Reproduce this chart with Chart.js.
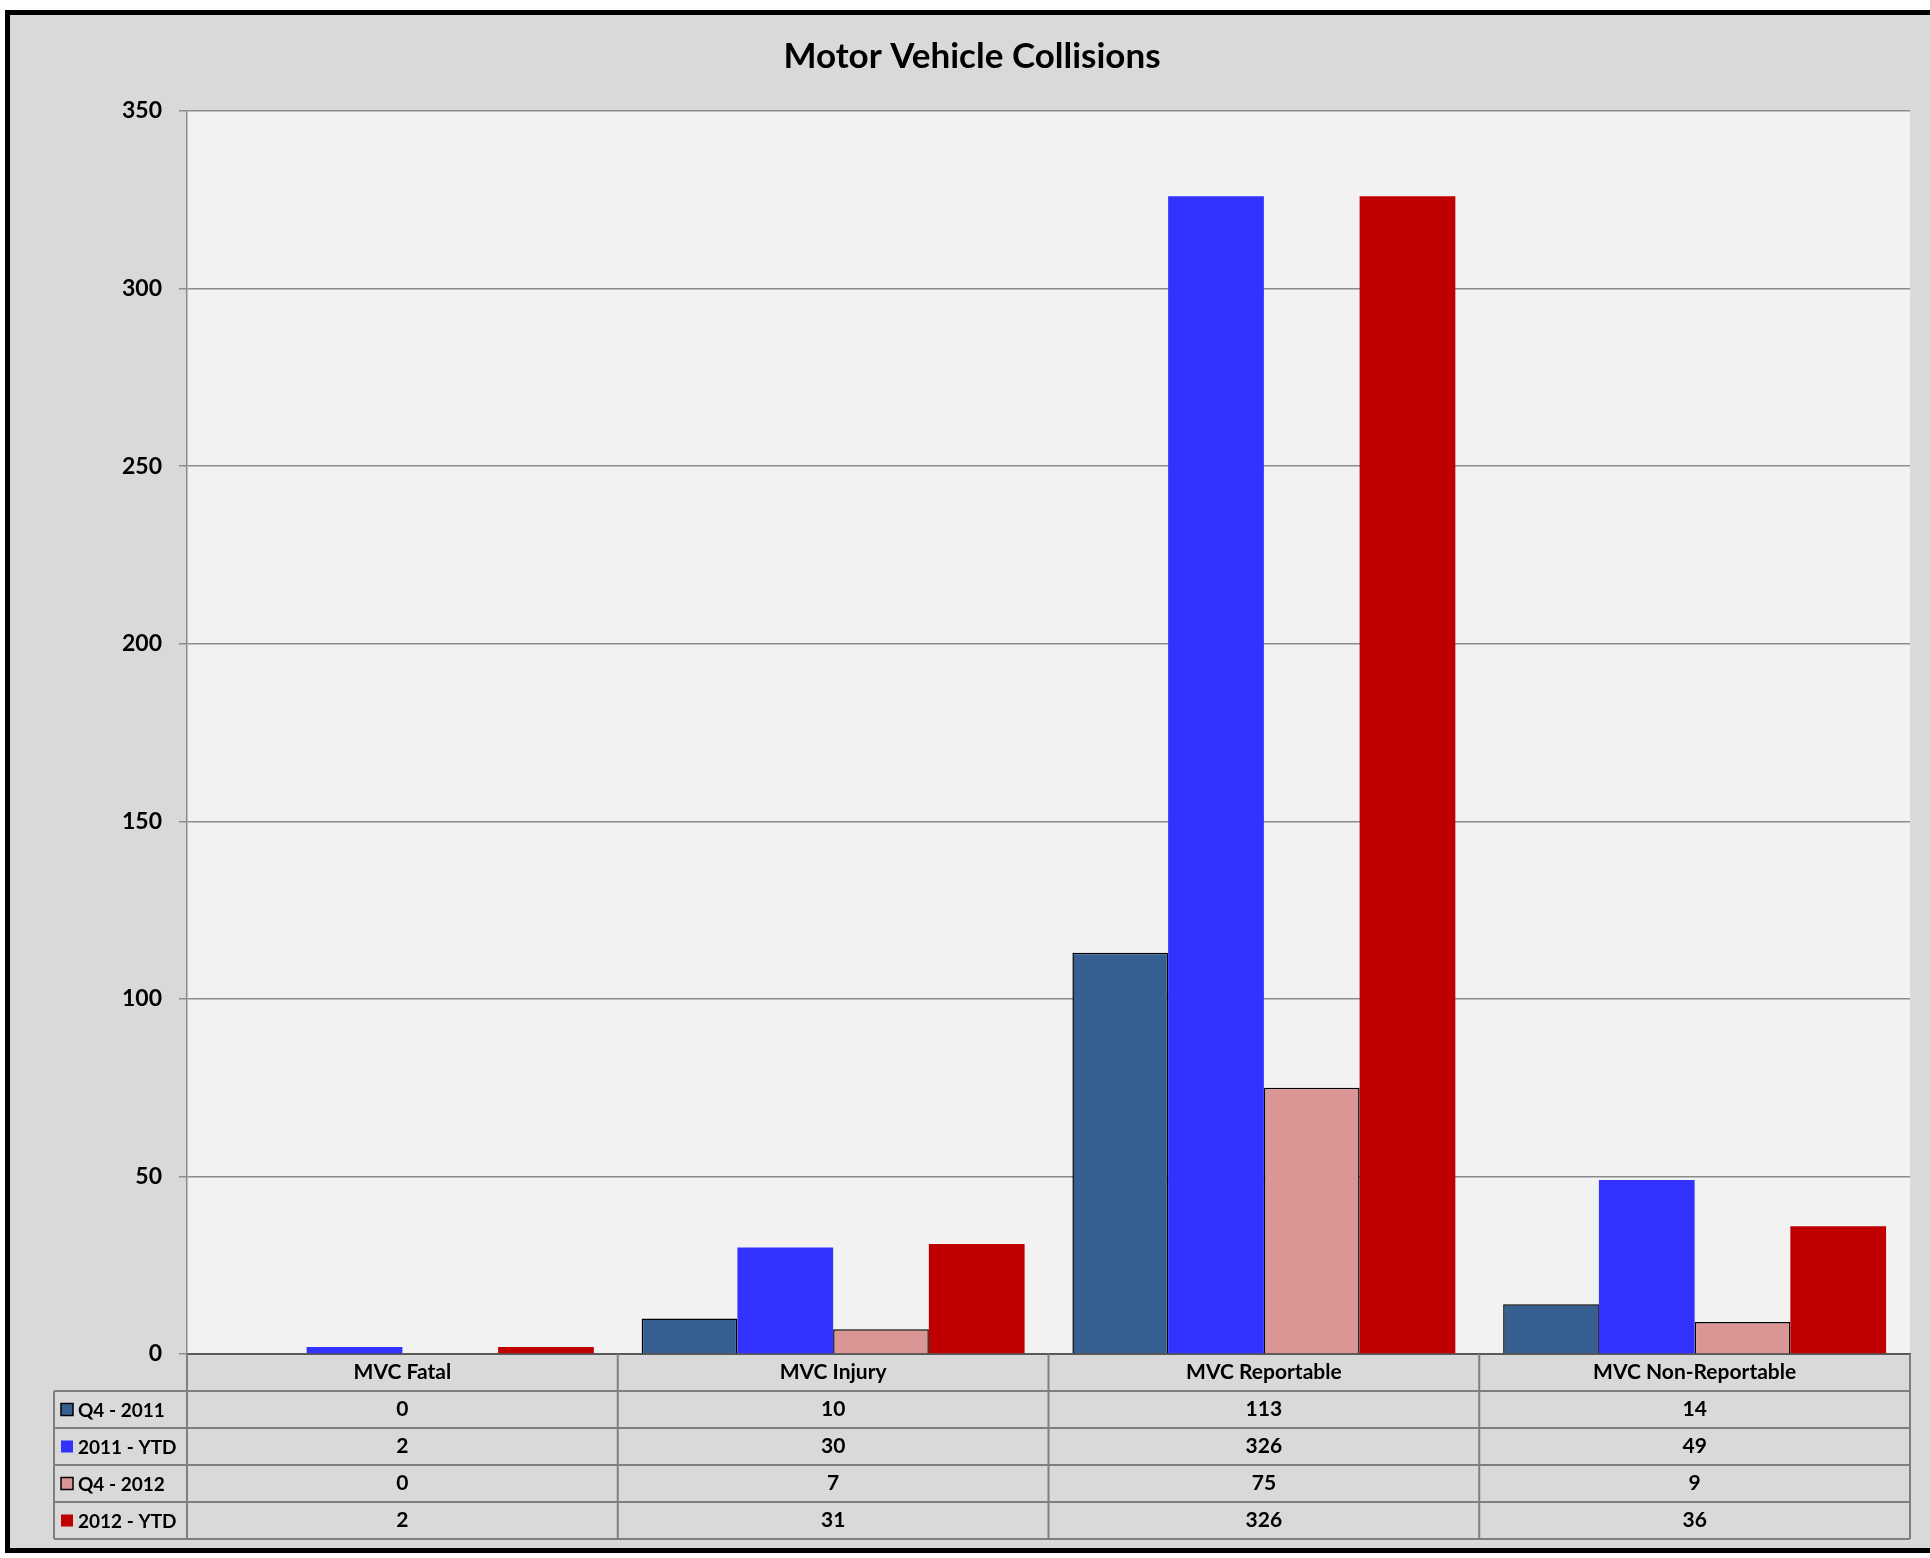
<!DOCTYPE html>
<html>
<head>
<meta charset="utf-8">
<script src="https://cdn.jsdelivr.net/npm/chart.js@4.4.1/dist/chart.umd.min.js"></script>
<style>
    body { margin: 0; background: #ffffff; overflow: hidden; width: 1930px; height: 1558px; }
    #frame { position: absolute; left: 5px; top: 10px; width: 1940px; height: 1533px; border: 5px solid #000000; background: #d9d9d9; }
    #chart { position: absolute; left: 0; top: 0; }
</style>
</head>
<body>
<div id="frame"></div>
<canvas id="chart" width="1930" height="1558"></canvas>
<script>
const categories = ['MVC Fatal', 'MVC Injury', 'MVC Reportable', 'MVC Non-Reportable']
const seriesNames = ['Q4 - 2011', '2011 - YTD', 'Q4 - 2012', '2012 - YTD']
const q4_2011 = [0, 10, 113, 14]
const ytd_2011 = [2, 30, 326, 49]
const q4_2012 = [0, 7, 75, 9]
const ytd_2012 = [2, 31, 326, 36]
const yMax = 350
const yStep = 50

const seriesValues = [q4_2011, ytd_2011, q4_2012, ytd_2012]
const seriesColors = ['#366092', '#3333ff', '#da9694', '#c00000']
const seriesBorders = [1.5, 0, 1.5, 0]

const fontFamily = 'Lato, "Open Sans", sans-serif'

// plot area background
const plotBackground = {
    id: 'plotBackground',
    beforeDraw: (chart) => {
        const ctx = chart.ctx
        const ca = chart.chartArea
        ctx.save()
        ctx.fillStyle = '#f2f2f2'
        ctx.fillRect(ca.left, ca.top, ca.right - ca.left, ca.bottom - ca.top)
        ctx.restore()
    }
}

// Excel style data table under the x axis
const dataTable = {
    id: 'dataTable',
    afterDraw: (chart) => {
        const ctx = chart.ctx
        const ca = chart.chartArea
        const xScale = chart.scales.x
        const colW = (ca.right - ca.left) / categories.length
        const rowH = 37
        const top = ca.bottom
        const legendLeft = 54
        const bottom = top + rowH * (seriesNames.length + 1)

        ctx.save()
        ctx.strokeStyle = '#7f7f7f'
        ctx.lineWidth = 2
        ctx.beginPath()
        for (let r = 1; r <= seriesNames.length + 1; r++) {
            ctx.moveTo(legendLeft, top + rowH * r)
            ctx.lineTo(ca.right, top + rowH * r)
        }
        ctx.moveTo(legendLeft, top + rowH)
        ctx.lineTo(legendLeft, bottom)
        for (let c = 0; c <= categories.length; c++) {
            ctx.moveTo(ca.left + colW * c, top)
            ctx.lineTo(ca.left + colW * c, bottom)
        }
        ctx.stroke()

        ctx.fillStyle = '#000000'
        ctx.font = 'bold 21px ' + fontFamily
        ctx.textBaseline = 'middle'
        ctx.textAlign = 'center'
        categories.forEach((cat, i) => {
            ctx.fillText(cat, xScale.getPixelForValue(i), top + rowH / 2)
        })
        seriesValues.forEach((vals, s) => {
            const y = top + rowH * (s + 1) + rowH / 2
            vals.forEach((v, i) => {
                ctx.fillText(String(v), xScale.getPixelForValue(i), y)
            })
        })

        // legend keys in the first column
        ctx.textAlign = 'left'
        ctx.font = 'bold 19px ' + fontFamily
        seriesNames.forEach((name, s) => {
            const y = top + rowH * (s + 1) + rowH / 2
            ctx.fillStyle = seriesColors[s]
            ctx.fillRect(61, y - 6, 12, 12)
            if (seriesBorders[s] > 0) {
                ctx.strokeStyle = '#000000'
                ctx.lineWidth = 1.5
                ctx.strokeRect(61, y - 6, 12, 12)
            }
            ctx.fillStyle = '#000000'
            ctx.fillText(name, 78, y + 1)
        })
        ctx.restore()
    }
}

const ctx = document.getElementById('chart').getContext('2d')
new Chart(ctx, {
    type: 'bar',
    data: {
        labels: categories,
        datasets: seriesNames.map((name, s) => ({
            label: name,
            data: seriesValues[s],
            backgroundColor: seriesColors[s],
            borderColor: '#000000',
            borderWidth: seriesBorders[s],
            barPercentage: 1,
            categoryPercentage: 0.889
        }))
    },
    options: {
        responsive: false,
        animation: false,
        devicePixelRatio: 1,
        layout: {
            padding: { left: 34, right: 20, top: 0, bottom: 19 }
        },
        plugins: {
            legend: { display: false },
            tooltip: { enabled: false },
            title: {
                display: true,
                text: 'Motor Vehicle Collisions',
                color: '#000000',
                font: { family: fontFamily, size: 35, weight: 'bold', lineHeight: 1.2 },
                padding: { top: 36, bottom: 33 }
            }
        },
        scales: {
            x: {
                grid: { display: false },
                ticks: { display: false },
                border: { color: '#595959', width: 2 },
                afterFit: (scale) => { scale.height = 185 }
            },
            y: {
                min: 0,
                max: yMax,
                ticks: {
                    stepSize: yStep,
                    color: '#000000',
                    padding: 17,
                    font: { family: fontFamily, size: 23, weight: 'bold' }
                },
                grid: { color: '#8c8c8c', lineWidth: 1.5, tickLength: 8 },
                border: { color: '#8c8c8c', width: 1.5 },
                afterFit: (scale) => { scale.width = 153 }
            }
        }
    },
    plugins: [plotBackground, dataTable]
})
</script>
</body>
</html>
